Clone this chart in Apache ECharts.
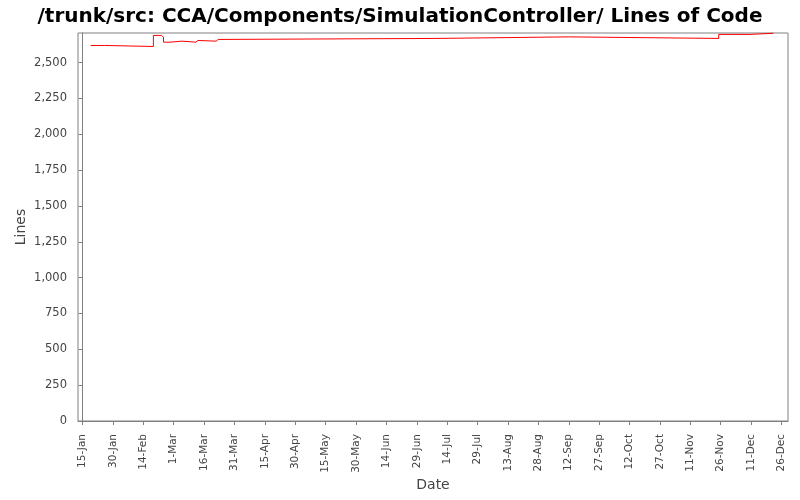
<!DOCTYPE html>
<html>
<head>
<meta charset="utf-8">
<script src="https://cdn.jsdelivr.net/npm/echarts@6/dist/echarts.min.js"></script>
<style>
  html, body { margin: 0; padding: 0; background: #fff; }
  #main { width: 800px; height: 500px; }
</style>
</head>
<body>
<div id="main"></div>
<script>
// step changes of lines of code (date, lines)
var dates = ['2007-01-19', '2007-01-26', '2007-02-19', '2007-02-23', '2007-02-24',
  '2007-02-27', '2007-03-05', '2007-03-12', '2007-03-13', '2007-03-22', '2007-03-23',
  '2007-07-08', '2007-09-12', '2007-11-25', '2007-12-10', '2007-12-22'];
var lines = [2620, 2613, 2690, 2678, 2643, 2650, 2643, 2655, 2650, 2662, 2669,
  2680, 2669, 2697, 2705, 2705];

var tickDates = ['2007-01-15', '2007-01-30', '2007-02-14', '2007-03-01', '2007-03-16',
  '2007-03-31', '2007-04-15', '2007-04-30', '2007-05-15', '2007-05-30', '2007-06-14',
  '2007-06-29', '2007-07-14', '2007-07-29', '2007-08-13', '2007-08-28', '2007-09-12',
  '2007-09-27', '2007-10-12', '2007-10-27', '2007-11-11', '2007-11-26', '2007-12-11',
  '2007-12-26'];
var yTicks = [0, 250, 500, 750, 1000, 1250, 1500, 1750, 2000, 2250, 2500];

var months = ['Jan', 'Feb', 'Mar', 'Apr', 'May', 'Jun', 'Jul', 'Aug', 'Sep', 'Oct', 'Nov', 'Dec'];
var DAY = 86400000;
var origin = Date.UTC(2007, 0, 15);

// days since 15-Jan
function toDay(s) {
  var p = s.split('-');
  return (Date.UTC(+p[0], +p[1] - 1, +p[2]) - origin) / DAY;
}
function dayLabel(v) {
  var d = new Date(origin + Math.round(v) * DAY);
  return d.getUTCDate() + '-' + months[d.getUTCMonth()];
}

// value holds until the next change -> add the corner points
var seriesData = [];
dates.forEach(function (d, i) {
  var x = toDay(d);
  if (i > 0) seriesData.push([x, lines[i - 1]]);
  seriesData.push([x, lines[i]]);
});
var xTicks = tickDates.map(toDay);

var chart = echarts.init(document.getElementById('main'));
chart.setOption({
  backgroundColor: '#fff',
  animation: false,
  title: {
    text: '/trunk/src: CCA/Components/SimulationController/ Lines of Code',
    left: 'center',
    top: 2,
    textStyle: { fontFamily: 'DejaVu Sans', fontWeight: 'bold', fontSize: 20, color: '#000' }
  },
  grid: {
    left: 78, right: 12, top: 33, bottom: 79,
    outerBoundsMode: 'none',
    containLabel: false,
    show: true, borderColor: '#808080', borderWidth: 1, backgroundColor: '#fff'
  },
  xAxis: {
    type: 'value',
    min: -2.2,
    max: 348.2,
    offset: 4,
    name: 'Date',
    nameLocation: 'middle',
    nameGap: 53,
    nameMoveOverlap: false,
    nameTextStyle: { fontFamily: 'DejaVu Sans', fontSize: 14, color: '#444', verticalAlign: 'top' },
    axisLine: { show: true, lineStyle: { color: '#808080' } },
    axisTick: { show: true, length: 4, customValues: xTicks, lineStyle: { color: '#808080' } },
    axisLabel: {
      customValues: xTicks,
      rotate: 90,
      margin: 9,
      fontFamily: 'DejaVu Sans',
      fontSize: 10.5,
      color: '#444',
      formatter: dayLabel
    },
    splitLine: { show: false }
  },
  yAxis: {
    type: 'value',
    min: 0,
    max: 2707,
    offset: 5,
    name: 'Lines',
    nameLocation: 'middle',
    nameGap: 45,
    nameMoveOverlap: false,
    nameTextStyle: { fontFamily: 'DejaVu Sans', fontSize: 14, color: '#444' },
    axisLine: { show: true, lineStyle: { color: '#808080' } },
    axisTick: { show: true, length: 4, customValues: yTicks, lineStyle: { color: '#808080' } },
    axisLabel: {
      customValues: yTicks,
      margin: 6,
      fontFamily: 'DejaVu Sans',
      fontSize: 11.5,
      color: '#444',
      formatter: function (v) { return v.toLocaleString('en-US'); }
    },
    splitLine: { show: false }
  },
  series: [{
    type: 'line',
    data: seriesData,
    showSymbol: false,
    lineStyle: { color: '#ff0000', width: 1 },
    clip: false
  }]
});
</script>
</body>
</html>
